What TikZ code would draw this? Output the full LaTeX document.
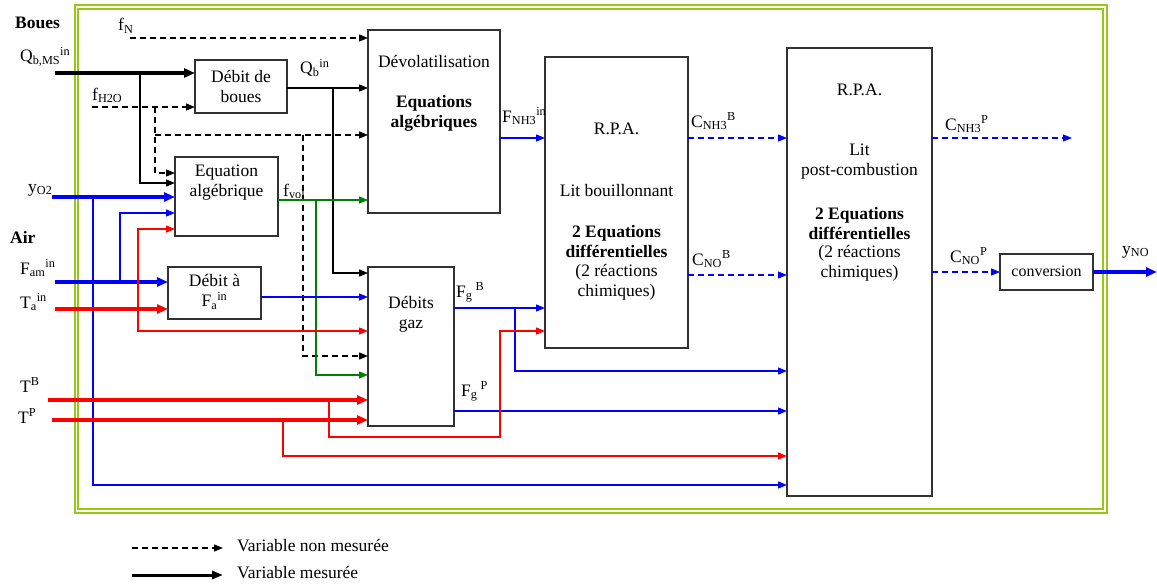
\documentclass[tikz,border=0pt]{standalone}
\usepackage{fontspec}
\setmainfont{Liberation Serif}
\usetikzlibrary{arrows.meta,calc}
\definecolor{framegreen}{RGB}{150,200,20}
\definecolor{dgreen}{RGB}{0,128,0}
\definecolor{boxgray}{RGB}{50,50,50}
\begin{document}
\begin{tikzpicture}[x=1pt,y=-1pt,
  base/.style={font=\fontsize{17.5}{20}\selectfont},
  bold/.style={font=\fontsize{17.5}{20}\selectfont\bfseries},
  box/.style={draw=boxgray,line width=1.1pt,inner sep=0pt,outer sep=0pt,fill=white},
  txt/.style={base,inner sep=0pt,align=center},
  btxt/.style={bold,inner sep=0pt,align=center},
  lbl/.style={base,inner sep=0pt,anchor=base west},
  tipS/.style={-{Triangle[length=9pt,width=7pt]}},
  tipL/.style={-{Triangle[length=11pt,width=9pt]}},
  conn/.style={line width=1.3pt,tipS},
  connthick/.style={line width=3.5pt,tipL},
  conndash/.style={line width=1.3pt,dash pattern=on 6pt off 4pt,tipS}]
\useasboundingbox (0,0) rectangle (1157,586);
% frame
\draw[framegreen,line width=2pt] (74.5,5.5) rectangle (1106.5,512.5);
\draw[framegreen,line width=1.6pt] (78,9) rectangle (1103,509);

% boxes
\node[box,minimum width=132pt,minimum height=183pt] (devol) at (434,121.5) {};
\node[box,minimum width=92pt,minimum height=53pt] (debitb) at (241,86.5) {};
\node[box,minimum width=103pt,minimum height=79pt] (eqalg) at (226.5,196.5) {};
\node[box,minimum width=93pt,minimum height=52pt] (debitF) at (214.5,293) {};
\node[box,minimum width=86pt,minimum height=159pt] (gaz) at (411,346.5) {};
\node[box,minimum width=143pt,minimum height=291pt] (rpab) at (616.5,202.5) {};
\node[box,minimum width=145pt,minimum height=448pt] (rpap) at (859.5,272) {};
\node[box,minimum width=93pt,minimum height=36pt] (conv) at (1046.5,272) {};

% box texts
\node[txt] (tdevol1) at (434,62) {Dévolatilisation};
\node[btxt] (tdevol2) at (434,113) {Equations\\algébriques};
\node[txt] (tdebitb) at (241,87) {Débit de\\boues};
\node[txt] (teqalg) at (226.5,183) {Equation\\algébrique};
\node[txt] (tdebitF) at (214.5,292) {Débit à\\F\textsubscript{a}\textsuperscript{in}};
\node[txt] (tgaz) at (411,314) {Débits\\gaz};
\node[txt] (trpab1) at (616.5,129) {R.P.A.};
\node[txt] (trpab2) at (616.5,191) {Lit bouillonnant};
\node[btxt] (trpab3) at (616.5,242) {2 Equations\\différentielles};
\node[txt] (trpab4) at (616.5,282) {(2 réactions\\chimiques)};
\node[txt] (trpap1) at (859.5,90) {R.P.A.};
\node[txt] (trpap2) at (859.5,162) {Lit\\post-combustion};
\node[btxt] (trpap3) at (859.5,223.5) {2 Equations\\différentielles};
\node[txt] (trpap4) at (859.5,263) {(2 réactions\\chimiques)};
\node[inner sep=0pt,font=\fontsize{16}{18}\selectfont] (tconv) at (1046.5,271) {conversion};

% labels
\node[lbl,bold] (lboues) at (15,29) {Boues};
\node[lbl] (lfn) at (118,31) {f\textsubscript{N}};
\node[lbl] (lqbms) at (20,62) {Q\textsubscript{b,MS}\textsuperscript{in}};
\node[lbl] (lfh2o) at (92,100) {f\textsubscript{H2O}};
\node[lbl] (lqb) at (300,74) {Q\textsubscript{b}\textsuperscript{in}};
\node[lbl] (lyo2) at (28,192) {y\textsubscript{O2}};
\node[lbl] (lfvol) at (283,196) {f\textsubscript{vol}};
\node[lbl,bold] (lair) at (10,243) {Air};
\node[lbl] (lfam) at (20,274) {F\textsubscript{am}\textsuperscript{in}};
\node[lbl] (lta) at (20,308) {T\textsubscript{a}\textsuperscript{in}};
\node[lbl] (ltb) at (20,392) {T\textsuperscript{B}};
\node[lbl] (ltp) at (18,423) {T\textsuperscript{P}};
\node[lbl] (lfgb) at (456,297) {F\textsubscript{g}\textsuperscript{ B}};
\node[lbl] (lfgp) at (461,396) {F\textsubscript{g}\textsuperscript{ P}};
\node[lbl] (lfnh3) at (502,122) {F\textsubscript{NH3}\textsuperscript{in}};
\node[lbl] (lcnh3b) at (691,127) {C\textsubscript{NH3}\textsuperscript{B}};
\node[lbl] (lcnob) at (692,265) {C\textsubscript{NO}\textsuperscript{B}};
\node[lbl] (lcnh3p) at (945,130) {C\textsubscript{NH3}\textsuperscript{P}};
\node[lbl] (lcnop) at (950,262) {C\textsubscript{NO}\textsuperscript{P}};
\node[lbl] (lyno) at (1122,254) {y\textsubscript{NO}};

% free ends and junctions
\coordinate (fN) at (130,38);
\coordinate (qbms) at (55,73);
\coordinate (fh2o) at (92,107);
\coordinate (yo2) at (52,197);
\coordinate (fam) at (55,282);
\coordinate (ta) at (55,309);
\coordinate (tb) at (48,400);
\coordinate (tp) at (52,420);
\coordinate (j1) at (140,73);
\coordinate (j2) at (155,107);
\coordinate (j3) at (155,135);
\coordinate (j4) at (303,135);
\coordinate (j5) at (333,88);
\coordinate (j6) at (316,200);
\coordinate (j7) at (93,197);
\coordinate (j8) at (120,282);
\coordinate (j9) at (138,309);
\coordinate (j10) at (329,400);
\coordinate (c10) at (500,437);
\coordinate (j11) at (283,420);
\coordinate (j12) at (515,308);
\coordinate (cnh3p) at (1072,138);
\coordinate (yno) at (1157,272);

% black connectors
\draw[conndash] (fN) -- (fN -| devol.west);
\draw[connthick] (qbms) -- (qbms -| debitb.west);
\draw[conndash] (fh2o) -- (fh2o -| debitb.west);
\draw[conn] (j1) |- (eqalg.west |- 0,183);
\draw[conndash] (j2) |- (eqalg.west |- 0,173);
\draw[conndash] (j3) -- (j3 -| devol.west);
\draw[conndash] (j4) |- (gaz.west |- 0,356);
\draw[conn] (debitb.east |- 0,88) -- (devol.west |- 0,88);
\draw[conn] (j5) |- (gaz.west |- 0,273);
% green
\draw[conn,dgreen] (eqalg.east |- 0,200) -- (devol.west |- 0,200);
\draw[conn,dgreen] (j6) |- (gaz.west |- 0,375);
% blue
\draw[connthick,blue] (yo2) -- (yo2 -| eqalg.west);
\draw[conn,blue] (j7) |- (rpap.west |- 0,485);
\draw[connthick,blue] (fam) -- (fam -| debitF.west);
\draw[conn,blue] (j8) |- (eqalg.west |- 0,213);
\draw[conn,blue] (debitF.east |- 0,297) -- (gaz.west |- 0,297);
\draw[conn,blue] (gaz.east |- 0,308) -- (rpab.west |- 0,308);
\draw[conn,blue] (j12) |- (rpap.west |- 0,371);
\draw[conn,blue] (gaz.east |- 0,411) -- (rpap.west |- 0,411);
\draw[conn,blue] (devol.east |- 0,138) -- (rpab.west |- 0,138);
\draw[conndash,blue] (rpab.east |- 0,138) -- (rpap.west |- 0,138);
\draw[conndash,blue] (rpab.east |- 0,275) -- (rpap.west |- 0,275);
\draw[conndash,blue] (rpap.east |- 0,138) -- (cnh3p);
\draw[conndash,blue] (rpap.east |- 0,272) -- (conv.west);
\draw[connthick,blue] (conv.east) -- (yno);
% red
\draw[connthick,red] (ta) -- (ta -| debitF.west);
\draw[conn,red] (j9) |- (eqalg.west |- 0,229);
\draw[conn,red] (j9) |- (gaz.west |- 0,331);
\draw[connthick,red] (tb) -- (tb -| gaz.west);
\draw[connthick,red] (tp) -- (tp -| gaz.west);
\draw[conn,red] (j10) |- (c10) |- (rpab.west |- 0,331);
\draw[conn,red] (j11) |- (rpap.west |- 0,456);

% legend
\coordinate (lg1a) at (132,548);
\coordinate (lg1b) at (223,548);
\coordinate (lg2a) at (132,575);
\coordinate (lg2b) at (223,575);
\draw[line width=1.3pt,dash pattern=on 6pt off 4pt,-{Triangle[length=9pt,width=7pt]}] (lg1a) -- (lg1b);
\draw[line width=3pt,-{Triangle[length=11pt,width=8pt]}] (lg2a) -- (lg2b);
\node[lbl] (leg1) at (237,551) {Variable non mesurée};
\node[lbl] (leg2) at (237,578) {Variable mesurée};
\end{tikzpicture}
\end{document}
